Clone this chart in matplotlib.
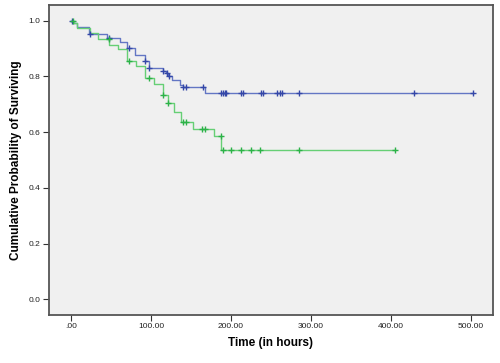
import numpy as np
import matplotlib
matplotlib.use('Agg')
import matplotlib.pyplot as plt

plt.rcParams['font.family'] = ['Liberation Sans', 'DejaVu Sans']

# Kaplan-Meier steps: time of event, survival after the event
blue_t = [0, 3, 7, 22, 45, 61, 70, 80, 92, 97, 115, 119, 121, 126, 136, 140, 167]
blue_s = [1.0, 0.99, 0.979, 0.951, 0.937, 0.925, 0.903, 0.877, 0.856, 0.829,
          0.820, 0.811, 0.803, 0.787, 0.770, 0.762, 0.740]
blue_end = 502
blue_cens = [1, 24, 47, 72, 92, 97, 115, 120, 122, 140, 144, 165, 188, 190, 192,
             194, 213, 215, 237, 240, 257, 261, 264, 285, 429, 502]

green_t = [0, 3, 8, 24, 34, 48, 59, 70, 81, 93, 104, 115, 121, 129, 137, 153, 179, 188]
green_s = [1.0, 0.99, 0.973, 0.956, 0.934, 0.913, 0.900, 0.856, 0.839, 0.794,
           0.772, 0.734, 0.704, 0.671, 0.638, 0.612, 0.587, 0.536]
green_end = 405
green_cens = [2, 47, 72, 97, 115, 121, 140, 144, 164, 167, 187, 190, 200, 212,
              225, 236, 285, 405]

xticks = [0, 100, 200, 300, 400, 500]
xtick_labels = ['.00', '100.00', '200.00', '300.00', '400.00', '500.00']
yticks = [0.0, 0.2, 0.4, 0.6, 0.8, 1.0]
ytick_labels = ['0.0', '0.2', '0.4', '0.6', '0.8', '1.0']


def km_curve(ax, t, s, end, cens, line_col, mark_col):
    tt = list(t) + [end]
    ss = list(s) + [s[-1]]
    ax.step(tt, ss, where='post', color=line_col, lw=1.0, zorder=2)
    idx = np.searchsorted(t, cens, side='right') - 1
    cy = np.array(s)[idx]
    ax.plot(cens, cy, ls='none', marker='+', ms=4.5, mew=1.0, color=mark_col, zorder=3)


fig = plt.figure(figsize=(5, 3.63), dpi=100)
ax = fig.add_axes([0.098, 0.132, 0.888, 0.854])
ax.set_facecolor('#f0f0f0')

km_curve(ax, blue_t, blue_s, blue_end, blue_cens, '#6376c4', '#3447a8')
km_curve(ax, green_t, green_s, green_end, green_cens, '#66cf75', '#2cb248')

ax.set_xlim(-27.5, 527.5)
ax.set_ylim(-0.056, 1.056)
ax.set_xticks(xticks)
ax.set_xticklabels(xtick_labels)
ax.set_yticks(yticks)
ax.set_yticklabels(ytick_labels)
ax.tick_params(labelsize=6, length=4, width=0.8, color='#333333', labelcolor='#222222', pad=2)

for sp in ax.spines.values():
    sp.set_color('#555555')
    sp.set_linewidth(1.3)

ax.set_xlabel('Time (in hours)', fontsize=8.5, fontweight='bold', labelpad=5)
ax.set_ylabel('Cumulative Probability of Surviving', fontsize=8.5, fontweight='bold', labelpad=5)

fig.savefig('out.png', dpi=100)
